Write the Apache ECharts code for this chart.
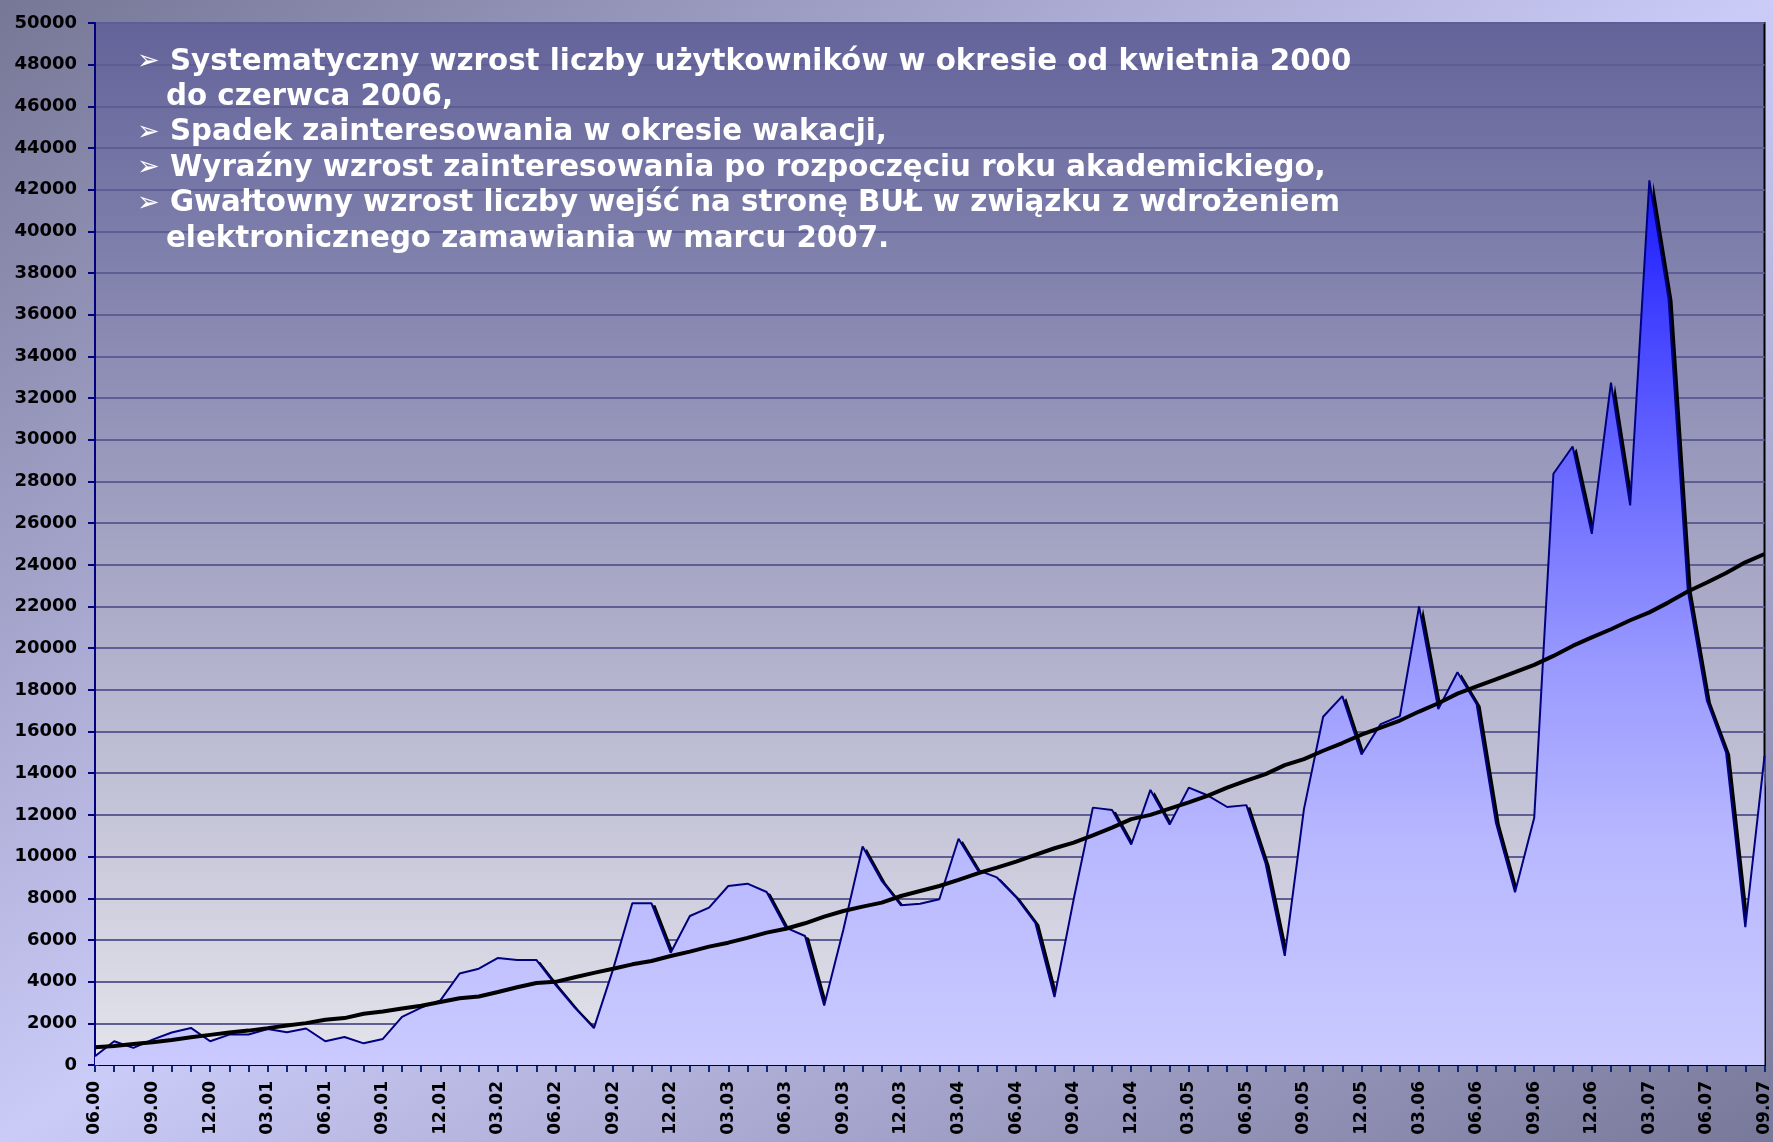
<!DOCTYPE html>
<html>
<head>
<meta charset="utf-8">
<script src="https://cdn.jsdelivr.net/npm/echarts@6/dist/echarts.min.js"></script>
<style>
html,body{margin:0;padding:0;}
body{width:1773px;height:1142px;overflow:hidden;background:linear-gradient(to bottom right,#767696 0%,#cbcbf8 50%,#78789a 100%);}
#main{width:1773px;height:1142px;}
</style>
</head>
<body>
<div id="main"></div>
<script>
var months = [
'06.00','07.00','08.00','09.00','10.00','11.00','12.00',
'01.01','02.01','03.01','04.01','05.01','06.01','07.01','08.01','09.01','10.01','11.01','12.01',
'01.02','02.02','03.02','04.02','05.02','06.02','07.02','08.02','09.02','10.02','11.02','12.02',
'01.03','02.03','03.03','04.03','05.03','06.03','07.03','08.03','09.03','10.03','11.03','12.03',
'01.04','02.04','03.04','04.04','05.04','06.04','07.04','08.04','09.04','10.04','11.04','12.04',
'01.05','02.05','03.05','04.05','05.05','06.05','07.05','08.05','09.05','10.05','11.05','12.05',
'01.06','02.06','03.06','04.06','05.06','06.06','07.06','08.06','09.06','10.06','11.06','12.06',
'01.07','02.07','03.07','04.07','05.07','06.07','07.07','08.07','09.07'
];

var users = [
420, 1140, 820, 1220, 1560, 1780, 1140, 1460, 1460, 1730,
1570, 1750, 1140, 1340, 1040, 1250, 2310, 2750, 3100, 4390,
4620, 5140, 5040, 5040, 3850, 2750, 1770, 4600, 7760, 7760,
5390, 7150, 7550, 8590, 8700, 8300, 6590, 6190, 2860, 6500,
10480, 8830, 7660, 7740, 7950, 10860, 9350, 9000, 8050, 6820,
3260, 7950, 12350, 12240, 10580, 13200, 11540, 13310, 12930, 12380,
12470, 9670, 5240, 12280, 16710, 17700, 14900, 16360, 16740, 22000,
17080, 18850, 17310, 11640, 8290, 11860, 28370, 29680, 25490, 32740,
26850, 42450, 36770, 22800, 17480, 14990, 6610, 14820
];

var trend = [
850, 915, 1010, 1090, 1200, 1330, 1445, 1560, 1650, 1770,
1895, 2010, 2170, 2250, 2460, 2570, 2710, 2840, 3020, 3200,
3290, 3500, 3730, 3935, 3990, 4210, 4420, 4620, 4830, 4990,
5230, 5440, 5680, 5870, 6100, 6350, 6540, 6800, 7120, 7390,
7600, 7790, 8110, 8350, 8590, 8880, 9200, 9470, 9760, 10080,
10400, 10670, 11020, 11390, 11800, 12000, 12300, 12600, 12930, 13310,
13650, 13960, 14390, 14680, 15080, 15450, 15850, 16190, 16530, 16960,
17360, 17820, 18170, 18510, 18850, 19200, 19630, 20110, 20520, 20910,
21340, 21720, 22200, 22720, 23150, 23610, 24120, 24520
];

var notes = [
  {bullet: true,  text: 'Systematyczny wzrost liczby użytkowników w okresie od kwietnia 2000'},
  {bullet: false, text: 'do czerwca 2006,'},
  {bullet: true,  text: 'Spadek zainteresowania w okresie wakacji,'},
  {bullet: true,  text: 'Wyraźny wzrost zainteresowania po rozpoczęciu roku akademickiego,'},
  {bullet: true,  text: 'Gwałtowny wzrost liczby wejść na stronę BUŁ w związku z wdrożeniem'},
  {bullet: false, text: 'elektronicznego zamawiania w marcu 2007.'}
];

var chart = echarts.init(document.getElementById('main'), null, {renderer: 'canvas'});

var graphics = [];
var lineY0 = 62, lineStep = 35.4;
notes.forEach(function (n, i) {
  var y = lineY0 + i * lineStep;
  if (n.bullet) {
    graphics.push({
      type: 'text', x: 137, y: y, z: 100,
      style: {text: '➢', fill: '#ffffff', font: '27px "DejaVu Sans"', verticalAlign: 'middle', textVerticalAlign: 'middle'}
    });
  }
  graphics.push({
    type: 'text', x: n.bullet ? 170 : 166, y: y, z: 100,
    style: {text: n.text, fill: '#ffffff', font: 'bold 29.3px "DejaVu Sans"', verticalAlign: 'middle', textVerticalAlign: 'middle'}
  });
});

var option = {
  backgroundColor: 'transparent',
  animation: false,
  grid: {
    left: 95, right: 3, top: 23, bottom: 77,
    show: true,
    backgroundColor: new echarts.graphic.LinearGradient(0, 0, 0, 1, [
      {offset: 0, color: '#63639a'},
      {offset: 1, color: '#e4e4ec'}
    ]),
    borderColor: '#000000',
    borderWidth: 2
  },
  xAxis: {
    type: 'category',
    data: months,
    boundaryGap: false,
    axisLine: {show: true, lineStyle: {color: '#0a2a78', width: 2}},
    axisTick: {show: true, interval: 0, length: 7, lineStyle: {color: '#0a2a78', width: 2}},
    axisLabel: {interval: 2, rotate: 90, margin: 16, color: '#000000', fontFamily: 'DejaVu Sans', fontWeight: 'bold', fontSize: 17},
    splitLine: {show: false}
  },
  yAxis: {
    type: 'value',
    min: 0, max: 50000, interval: 2000,
    axisLine: {show: true, lineStyle: {color: '#000080', width: 2}},
    axisTick: {show: true, length: 7, lineStyle: {color: '#000080', width: 2}},
    axisLabel: {margin: 18, color: '#000000', fontFamily: 'DejaVu Sans', fontWeight: 'bold', fontSize: 18,
      formatter: function (v) { return String(v); }},
    splitLine: {show: true, lineStyle: {color: '#5e5e94', width: 2}}
  },
  series: [
    {
      name: 'Użytkownicy',
      type: 'line',
      data: users,
      symbol: 'none',
      smooth: false,
      lineStyle: {color: '#000080', width: 2},
      areaStyle: {
        color: new echarts.graphic.LinearGradient(0, 0, 0, 1, [
          {offset: 0, color: '#1818ff'},
          {offset: 0.15, color: '#4040ff'},
          {offset: 0.35, color: '#6e6eff'},
          {offset: 0.55, color: '#9a9aff'},
          {offset: 0.75, color: '#b8b8ff'},
          {offset: 1, color: '#cacaff'}
        ]),
        opacity: 1,
        shadowColor: '#000000',
        shadowBlur: 0,
        shadowOffsetX: 4,
        shadowOffsetY: 2
      },
      z: 2
    },
    {
      name: 'Trend',
      type: 'line',
      data: trend,
      symbol: 'none',
      smooth: false,
      lineStyle: {color: '#000000', width: 4},
      z: 3
    }
  ],
  graphic: graphics
};
chart.setOption(option);
</script>
</body>
</html>
